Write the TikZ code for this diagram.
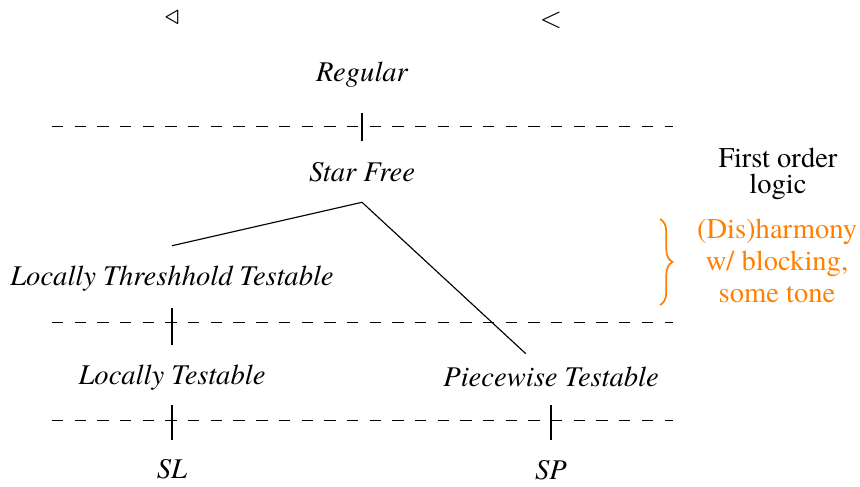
\documentclass[tikz,border=0pt]{standalone}
\usepackage{fontspec}
\setmainfont{texgyretermes}[
    Extension=.otf,
    UprightFont=*-regular,
    ItalicFont=*-italic,
    BoldFont=*-bold,
    BoldItalicFont=*-bolditalic]
\usepackage{xcolor}
\usetikzlibrary{decorations.pathreplacing}
\definecolor{HarmonyOrange}{HTML}{FF8000}
\tikzset{
    % Language class node
    classnode/.style={
        font=\itshape,
        text height=8pt,
        text depth=1.2pt,
        inner ysep=5.8pt
    },
    % Logic level separator
    levelline/.style={
        dash pattern=on 3.97pt off 3.97pt,
        line width=0.35pt
    },
    % Short vertical mark between levels
    tickline/.style={
        line width=0.4pt
    },
    % Inclusion edge
    edgeline/.style={
        line width=0.4pt
    },
    % Side note
    notenode/.style={
        align=center,
        font=\fontsize{10}{9.1}\selectfont
    },
    % Phonology note
    harmnode/.style={
        align=center,
        text=HarmonyOrange,
        font=\fontsize{10}{11.2}\selectfont
    },
    % Curly brace
    bracemark/.style={
        decorate,
        decoration={brace, amplitude=4.4pt},
        draw=HarmonyOrange,
        line width=0.6pt
    }
}
\begin{document}
\begin{tikzpicture}[x=0.35pt, y=-0.35pt]
        \useasboundingbox (0,0) rectangle (860,486);

        % Order symbols
        \node (succ) at (172,18) {$\triangleleft$};
        \node (prec) at (551,20) {$<$};

        % Classes
        \node[classnode] (regular) at (362,72) {Regular};
        \node[classnode] (starfree) at (362,172) {Star Free};
        \node[classnode] (ltt) at (172,276) {Locally Threshhold Testable};
        \node[classnode] (lt) at (172,375) {Locally Testable};
        \node[classnode, inner ysep=3.4pt] (pt) at (551,377) {Piecewise Testable};
        \node[classnode] (sl) at (172,469) {SL};
        \node[classnode] (sp) at (551,470) {SP};

        % Level separators
        \draw[levelline] (52,126) -- (673,126);
        \draw[levelline] (52,322) -- (673,322);
        \draw[levelline] (52,420) -- (673,420);

        % Marks through the separators
        \draw[tickline, shorten <=14.4pt, shorten >=10.9pt] (regular.center) -- (starfree.center);
        \draw[tickline, shorten <=11.2pt, shorten >=10.5pt] (ltt.center) -- (lt.center);
        \draw[tickline, shorten <=10.5pt, shorten >=10.2pt] (lt.center) -- (sl.center);
        \draw[tickline, shorten <=9.8pt, shorten >=10.5pt] (pt.center) -- (sp.center);

        % Star Free splits
        \draw[edgeline] (starfree.south) -- (ltt.north);
        \draw[edgeline] (starfree.south) -- (pt);

        % Notes on the right
        \node[notenode] (fol) at (778,174) {First order\\logic};
        \node[harmnode] (harm) at (777,261) {(Dis)harmony\\w/ blocking,\\some tone};
        \coordinate (bracetop) at (660,219);
        \coordinate (bracebot) at (660,305);
        \draw[bracemark] (bracetop) -- (bracebot);
    \end{tikzpicture}
\end{document}
